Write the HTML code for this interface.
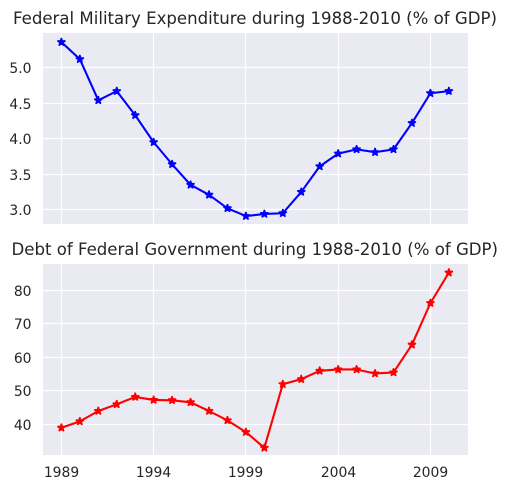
<!DOCTYPE html>
<html>
<head>
<meta charset="utf-8">
<title>Federal Military Expenditure and Debt</title>
<style>
html,body{margin:0;padding:0;background:#fff;width:508px;height:489px;overflow:hidden}
svg{display:block}
text{font-family:"DejaVu Sans","Liberation Sans",sans-serif;fill:#262626}
</style>
</head>
<body>
<svg id="fig" xmlns="http://www.w3.org/2000/svg" width="508" height="489" viewBox="0 0 508 489"></svg>
<script>
const years = [1989,1990,1991,1992,1993,1994,1995,1996,1997,1998,1999,2000,2001,2002,2003,2004,2005,2006,2007,2008,2009,2010];
const militaryValues = [5.36,5.12,4.54,4.67,4.33,3.95,3.64,3.35,3.21,3.02,2.91,2.94,2.95,3.25,3.61,3.79,3.85,3.81,3.85,4.22,4.64,4.67];
const debtValues = [39.0,40.9,44.0,46.0,48.2,47.3,47.2,46.6,44.0,41.2,37.7,33.0,52.0,53.5,56.0,56.4,56.4,55.2,55.5,63.8,76.2,85.3];
const xTicks = [1989,1994,1999,2004,2009];
const militaryTicks = [3.0,3.5,4.0,4.5,5.0];
const debtTicks = [40,50,60,70,80];
const militaryTitle = "Federal Military Expenditure during 1988-2010 (% of GDP)";
const debtTitle = "Debt of Federal Government during 1988-2010 (% of GDP)";

const NS = "http://www.w3.org/2000/svg";
const fig = document.getElementById("fig");

function make(tag, attrs, parent) {
  const el = document.createElementNS(NS, tag);
  for (const k in attrs) el.setAttribute(k, attrs[k]);
  parent.appendChild(el);
  return el;
}
function xScale(v) {
  return 61.4 + (v - 1989) * 18.45;
}
function yMilitary(v) {
  return 209.7 - (v - 3) * 71;
}
function yDebt(v) {
  return 424.4 - (v - 40) * 3.35;
}
function snap(v) {
  return Math.floor(v) + 0.5;
}
function starPoints(cx, cy, R) {
  const r = R * 0.381966;
  const pts = [];
  for (let i = 0; i < 10; i++) {
    const a = -Math.PI / 2 + i * Math.PI / 5;
    const m = i % 2 ? r : R;
    pts.push((cx + m * Math.cos(a)).toFixed(2) + "," + (cy + m * Math.sin(a)).toFixed(2));
  }
  return pts.join(" ");
}

function drawPanel(opt) {
  const g = make("g", {}, fig);
  
  

  const bg = make("rect", {x:43, y:opt.top, width:425, height:opt.bottom-opt.top, fill:"#eaeaf2"}, g);
  
  

  xTicks.forEach(function (t) {
    const gx = snap(xScale(t));
    const gl = make("line", {x1:gx, x2:gx, y1:opt.top, y2:opt.bottom, stroke:"#fff", "stroke-width":1.2}, g);
    
    
    if (opt.showX) {
      const tl = make("text", {x:gx, y:opt.bottom+22, "text-anchor":"middle", "font-size":"13.9px"}, g);
      
      
      tl.textContent = t;
    }
  });

  opt.ticks.forEach(function (t) {
    const gy = snap(opt.y(t));
    const gl = make("line", {x1:43, x2:468, y1:gy, y2:gy, stroke:"#fff", "stroke-width":1.2}, g);
    
    
    const tl = make("text", {x:31.5, y:gy+5.3, "text-anchor":"end", "font-size":"13.9px"}, g);
    
    
    tl.textContent = opt.fmt(t);
  });

  const pts = years.map(function (yr, i) {
    return xScale(yr).toFixed(2) + "," + opt.y(opt.values[i]).toFixed(2);
  }).join(" ");
  const line = make("polyline", {points:pts, fill:"none", stroke:opt.color, "stroke-width":2.08, "stroke-linejoin":"round", "stroke-linecap":"round"}, g);
  
  

  years.forEach(function (yr, i) {
    const s = make("polygon", {points:starPoints(xScale(yr), opt.y(opt.values[i]), 4.17), fill:opt.color, stroke:opt.color, "stroke-width":1.39, "stroke-linejoin":"miter", "stroke-miterlimit":2}, g);
    
    
  });

  const title = make("text", {x:opt.titleX, y:opt.top-9, "font-size":"16.67px", textLength:opt.titleLen, lengthAdjust:"spacingAndGlyphs"}, g);
  
  
  title.textContent = opt.title;
}

drawPanel({
  name:"military-expenditure-panel", seriesName:"military-expenditure-line",
  top:33, bottom:224, values:militaryValues, ticks:militaryTicks, y:yMilitary,
  fmt:function (t) { return t.toFixed(1); }, color:"#0000ff",
  title:militaryTitle, titleX:13, titleLen:484, showX:false
});
drawPanel({
  name:"federal-debt-panel", seriesName:"federal-debt-line",
  top:264, bottom:455, values:debtValues, ticks:debtTicks, y:yDebt,
  fmt:function (t) { return String(t); }, color:"#ff0000",
  title:debtTitle, titleX:11.5, titleLen:486.5, showX:true
});
</script>
</body>
</html>
